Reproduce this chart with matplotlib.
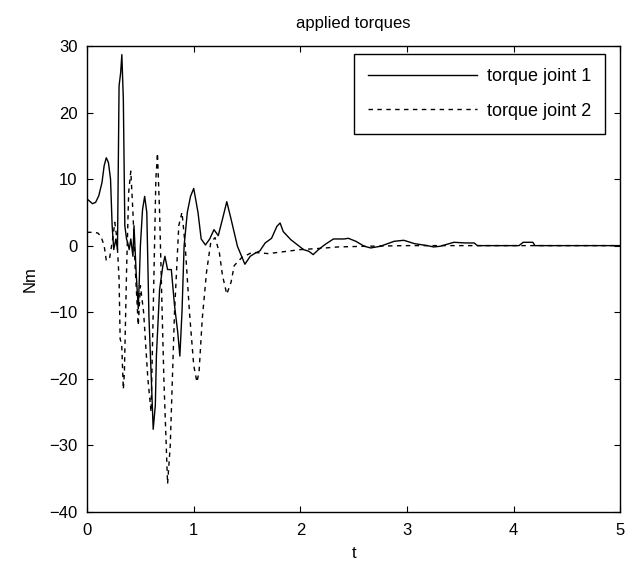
import numpy as np
import matplotlib.pyplot as plt

# torque joint 1 (solid)
t1 = [0, 0.03, 0.05, 0.08, 0.11, 0.14, 0.16, 0.18, 0.20, 0.22, 0.235, 0.25, 0.27, 0.285,
      0.30, 0.315, 0.326, 0.34, 0.354, 0.37, 0.38, 0.395, 0.41, 0.43, 0.44, 0.46, 0.48,
      0.49, 0.50, 0.52, 0.54, 0.56, 0.58, 0.60, 0.62, 0.64, 0.65, 0.68, 0.71, 0.73, 0.755,
      0.79, 0.82, 0.85, 0.87, 0.89, 0.91, 0.94, 0.97, 1.0, 1.04, 1.07, 1.11, 1.15, 1.19,
      1.23, 1.27, 1.31, 1.35, 1.41, 1.48, 1.53, 1.58, 1.62, 1.67, 1.73, 1.78, 1.81, 1.84,
      1.91, 1.97, 2.03, 2.08, 2.12, 2.17, 2.23, 2.31, 2.41, 2.45, 2.52, 2.6, 2.66, 2.75,
      2.88, 2.97, 3.07, 3.19, 3.25, 3.31, 3.44, 3.55, 3.63, 3.66, 3.8, 4.05, 4.09, 4.18,
      4.2, 4.5, 5.0]
tau1 = [7.0, 6.6, 6.3, 6.5, 7.5, 9.5, 12, 13.2, 12.5, 10, 3, -0.6, 1, -0.6,
        24, 26, 28.7, 22, 3, 1, 0.5, -0.6, 1, -1.6, 3, -4, -9.5,
        -5, 0, 5.4, 7.4, 5, -10.6, -19, -27.6, -24, -16.6, -6.6, -3.1, -1.6, -3.6,
        -3.6, -9, -13, -16.6, -10, 0, 5, 7.4, 8.6, 5, 1, 0.1, 1, 2.4,
        1.5, 4, 6.6, 4, -0.1, -2.8, -1.6, -1.1, -0.8, 0.4, 1.1, 2.9, 3.4, 2.1,
        0.9, 0.15, -0.6, -0.85, -1.35, -0.6, 0.15, 1.0, 1.0, 1.1, 0.65, -0.1, -0.35, -0.1,
        0.65, 0.8, 0.3, 0, -0.2, -0.1, 0.5, 0.4, 0.4, 0, 0, 0, 0.5, 0.5,
        0, 0, 0]

# torque joint 2 (dashed)
t2 = [0, 0.05, 0.10, 0.13, 0.16, 0.18, 0.21, 0.24, 0.26, 0.28, 0.30, 0.31, 0.325, 0.34,
      0.35, 0.37, 0.39, 0.41, 0.43, 0.45, 0.48, 0.50, 0.53, 0.57, 0.60, 0.62, 0.645, 0.66,
      0.68, 0.72, 0.755, 0.78, 0.82, 0.86, 0.89, 0.92, 0.96, 1.0, 1.03, 1.05, 1.08, 1.12,
      1.16, 1.2, 1.24, 1.27, 1.31, 1.35, 1.38, 1.45, 1.55, 1.7, 1.8, 1.9, 2.0, 2.2, 2.35,
      2.6, 3.0, 5.0]
tau2 = [2.0, 2.0, 1.9, 1.4, 0, -2.2, -2.0, 1, 3.5, 1, -5, -14, -15, -21.6,
        -19, -4, 8, 11.2, 5, -3, -12, -6, -10, -20, -25, -10, 10, 13.9,
        5, -20, -35.8, -30, -10, 3, 5, 0, -10, -18, -20.5, -19, -11, -4,
        0.5, 1.2, -1, -4.5, -7.3, -5.5, -3, -1.8, -1.0, -1.2, -1.0, -0.8, -0.6, -0.4, -0.2,
        -0.1, 0, 0]

xticks = [0, 1, 2, 3, 4, 5]
yticks = [-40, -30, -20, -10, 0, 10, 20, 30]

plt.rcParams['font.family'] = ['Liberation Sans', 'DejaVu Sans']
plt.rcParams['font.size'] = 12

fig = plt.figure(figsize=(6.31, 5.68), dpi=100)
ax = fig.add_axes([0.138, 0.099, 0.845, 0.820])

ax.plot(t1, tau1, color='black', lw=1.0, label='torque joint 1')
ax.plot(t2, tau2, color='black', lw=1.0, dashes=(3.2, 3.2), label='torque joint 2')

ax.set_xlim(0, 5)
ax.set_ylim(-40, 30)
ax.set_xticks(xticks)
ax.set_yticks(yticks)
ax.tick_params(direction='in', length=4, top=True, right=True, labelsize=12)
ax.tick_params(axis='x', pad=8)
ax.tick_params(axis='y', pad=7)
for s in ax.spines.values():
    s.set_linewidth(1.0)

ax.set_title('applied torques', fontsize=12, pad=13)
ax.set_xlabel('t', fontsize=12, labelpad=6)
ax.set_ylabel('Nm', fontsize=12, labelpad=8)

leg = ax.legend(loc='upper right', bbox_to_anchor=(0.972, 0.983), fancybox=False,
                edgecolor='black', framealpha=1, handlelength=6.0, handletextpad=0.55,
                borderpad=0.8, labelspacing=0.95, borderaxespad=0, fontsize=13)
leg.get_frame().set_linewidth(1.0)

fig.savefig('out.png', dpi=100)
